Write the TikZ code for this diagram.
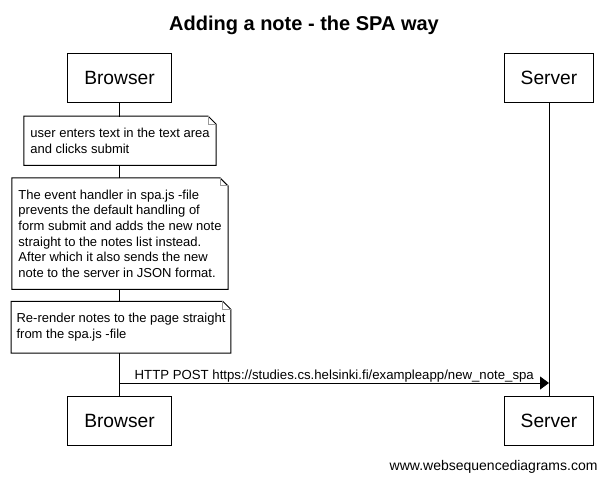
\documentclass[tikz,border=0pt]{standalone}
\usepackage{fontspec}
\setmainfont{Liberation Sans}
\usepackage{tikz}
\usetikzlibrary{arrows.meta, positioning, calc}

\begin{document}
\begin{tikzpicture}[x=1pt, y=-1pt, line width=1pt,
                actor/.style={rectangle, draw, fill=white, minimum height=49pt, inner xsep=16.5pt, font=\fontsize{19.2}{23}\selectfont},
                note/.style={rectangle, fill=white, align=left, inner xsep=6pt, inner ysep=11.5pt, font=\fontsize{13}{15.6}\selectfont},
                fold/.style={draw=gray!80},
                msg/.style={-{Triangle[length=9pt, width=13pt]}}
            ]
                \useasboundingbox (0,0) rectangle (607,480);
                \node[font=\bfseries\fontsize{20}{24}\selectfont, anchor=base] (title) at (304,30) {Adding a note - the SPA way};
                
                \node[actor] (b1) at (119.5,77.8) {Browser};
                \node[actor] (s1) at (549,77.8) {Server};
                \node[actor] (b2) at (119.5,420.5) {Browser};
                \node[actor] (s2) at (549,420.5) {Server};
                
                \draw (b1.south) -- (b2.north);
                \draw (s1.south) -- (s2.north);
                
                \node[note] (n1) at (120,140.7) {user enters text in the text area\\and clicks submit};
                \node[note] (n2) at (120,233.7) {The event handler in spa.js -file\\prevents the default handling of\\form submit and adds the new note\\straight to the notes list instead.\\After which it also sends the new\\note to the server in JSON format.};
                \node[note, inner xsep=5pt] (n3) at (121,327.3) {Re-render notes to the page straight\\from the spa.js -file};
                
                \foreach \n in {n1, n2, n3} {
                    \draw (\n.south west) -- (\n.north west) -- ([xshift=-8pt]\n.north east) -- ([yshift=-8pt]\n.north east) -- (\n.south east) -- cycle;
                    \draw[fold] ([xshift=-8pt]\n.north east) -- ([xshift=-8pt, yshift=-8pt]\n.north east) -- ([yshift=-8pt]\n.north east);
                }
                
                \coordinate (bpost) at (b2.north |- 0,383);
                \coordinate (spost) at (s2.north |- 0,383);
                \draw[msg] (bpost) -- node[above, inner sep=0.5pt, font=\fontsize{13.2}{15.6}\selectfont] (post) {HTTP POST https://studies.cs.helsinki.fi/exampleapp/new\_note\_spa} (spost);
                
                \node[anchor=base east, inner sep=0pt, font=\fontsize{14}{17}\selectfont] (footer) at (598,470) {www.websequencediagrams.com};
            \end{tikzpicture}
\end{document}
